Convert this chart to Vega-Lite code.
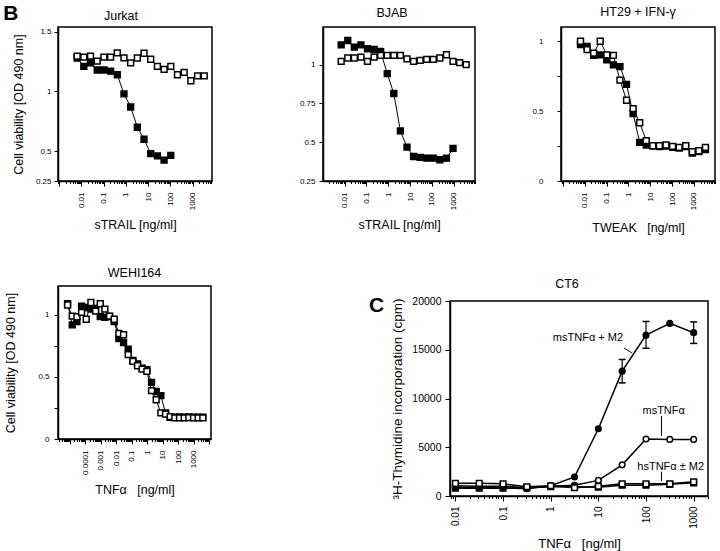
{
"$schema": "https://vega.github.io/schema/vega-lite/v6.json",
"padding": {"left": 2, "top": 2, "right": 0, "bottom": 0},
"background": "white",
"config": {
  "font": "Liberation Sans",
  "view": {"stroke": "black", "strokeWidth": 1.5},
  "axis": {"grid": false, "domainColor": "black", "domainWidth": 1.5, "tickColor": "black", "tickWidth": 1, "labelColor": "black", "titleColor": "black", "titleFontWeight": "normal", "labelFontSize": 8, "titleFontSize": 12.5, "labelOverlap": false, "labelBound": false, "labelFlush": false},
  "title": {"fontWeight": "normal", "fontSize": 12.5, "color": "black"}
},
"datasets": {
  "jurkat": [
    {"x":0.0064,"y":1.28,"s":"filled"},{"x":0.0128,"y":1.21,"s":"filled"},{"x":0.0256,"y":1.24,"s":"filled"},{"x":0.0512,"y":1.18,"s":"filled"},{"x":0.1024,"y":1.18,"s":"filled"},{"x":0.2048,"y":1.17,"s":"filled"},{"x":0.4096,"y":1.14,"s":"filled"},{"x":0.8192,"y":0.98,"s":"filled"},{"x":1.6384,"y":0.87,"s":"filled"},{"x":3.2768,"y":0.7,"s":"filled"},{"x":6.5536,"y":0.6,"s":"filled"},{"x":13.107,"y":0.48,"s":"filled"},{"x":26.214,"y":0.46,"s":"filled"},{"x":52.429,"y":0.425,"s":"filled"},{"x":104.86,"y":0.465,"s":"filled"},
    {"x":0.0064,"y":1.296,"s":"open"},{"x":0.0128,"y":1.287,"s":"open"},{"x":0.0256,"y":1.296,"s":"open"},{"x":0.0512,"y":1.254,"s":"open"},{"x":0.1024,"y":1.287,"s":"open"},{"x":0.2048,"y":1.287,"s":"open"},{"x":0.4096,"y":1.323,"s":"open"},{"x":0.8192,"y":1.282,"s":"open"},{"x":1.6384,"y":1.24,"s":"open"},{"x":3.2768,"y":1.28,"s":"open"},{"x":6.5536,"y":1.32,"s":"open"},{"x":13.107,"y":1.27,"s":"open"},{"x":26.214,"y":1.21,"s":"open"},{"x":52.429,"y":1.185,"s":"open"},{"x":104.86,"y":1.21,"s":"open"},{"x":209.72,"y":1.14,"s":"open"},{"x":419.43,"y":1.16,"s":"open"},{"x":838.86,"y":1.09,"s":"open"},{"x":1677.7,"y":1.13,"s":"open"},{"x":3355.4,"y":1.13,"s":"open"}
  ],
  "bjab": [
    {"x":0.007,"y":1.128,"s":"filled"},{"x":0.014,"y":1.156,"s":"filled"},{"x":0.028,"y":1.113,"s":"filled"},{"x":0.056,"y":1.128,"s":"filled"},{"x":0.112,"y":1.103,"s":"filled"},{"x":0.224,"y":1.098,"s":"filled"},{"x":0.448,"y":1.085,"s":"filled"},{"x":0.896,"y":0.942,"s":"filled"},{"x":1.792,"y":0.814,"s":"filled"},{"x":3.584,"y":0.573,"s":"filled"},{"x":7.168,"y":0.468,"s":"filled"},{"x":14.34,"y":0.408,"s":"filled"},{"x":28.67,"y":0.402,"s":"filled"},{"x":57.34,"y":0.397,"s":"filled"},{"x":114.7,"y":0.397,"s":"filled"},{"x":229.4,"y":0.387,"s":"filled"},{"x":458.8,"y":0.397,"s":"filled"},{"x":917.5,"y":0.46,"s":"filled"},
    {"x":0.007,"y":1.021,"s":"open"},{"x":0.014,"y":1.043,"s":"open"},{"x":0.028,"y":1.043,"s":"open"},{"x":0.056,"y":1.049,"s":"open"},{"x":0.112,"y":1.021,"s":"open"},{"x":0.224,"y":1.049,"s":"open"},{"x":0.448,"y":1.06,"s":"open"},{"x":0.896,"y":1.06,"s":"open"},{"x":1.792,"y":1.06,"s":"open"},{"x":3.584,"y":1.06,"s":"open"},{"x":7.168,"y":1.038,"s":"open"},{"x":14.34,"y":1.021,"s":"open"},{"x":28.67,"y":1.028,"s":"open"},{"x":57.34,"y":1.034,"s":"open"},{"x":114.7,"y":1.034,"s":"open"},{"x":229.4,"y":1.043,"s":"open"},{"x":458.8,"y":1.064,"s":"open"},{"x":917.5,"y":1.021,"s":"open"},{"x":1835,"y":1.013,"s":"open"},{"x":3670,"y":1.0,"s":"open"}
  ],
  "ht29": [
    {"x":0.0064,"y":0.974,"s":"filled"},{"x":0.0128,"y":0.962,"s":"filled"},{"x":0.0256,"y":0.897,"s":"filled"},{"x":0.0512,"y":0.901,"s":"filled"},{"x":0.1024,"y":0.865,"s":"filled"},{"x":0.2048,"y":0.829,"s":"filled"},{"x":0.4096,"y":0.817,"s":"filled"},{"x":0.8192,"y":0.69,"s":"filled"},{"x":1.6384,"y":0.481,"s":"filled"},{"x":3.2768,"y":0.276,"s":"filled"},{"x":6.5536,"y":0.257,"s":"filled"},{"x":13.107,"y":0.252,"s":"filled"},{"x":26.214,"y":0.245,"s":"filled"},{"x":52.429,"y":0.25,"s":"filled"},{"x":104.86,"y":0.24,"s":"filled"},{"x":209.72,"y":0.235,"s":"filled"},{"x":419.43,"y":0.245,"s":"filled"},{"x":838.86,"y":0.2,"s":"filled"},{"x":1677.7,"y":0.21,"s":"filled"},{"x":3355.4,"y":0.225,"s":"filled"},
    {"x":0.0064,"y":0.998,"s":"open"},{"x":0.0128,"y":0.938,"s":"open"},{"x":0.0256,"y":0.913,"s":"open"},{"x":0.0512,"y":0.998,"s":"open"},{"x":0.1024,"y":0.901,"s":"open"},{"x":0.2048,"y":0.897,"s":"open"},{"x":0.4096,"y":0.721,"s":"open"},{"x":0.8192,"y":0.577,"s":"open"},{"x":1.6384,"y":0.517,"s":"open"},{"x":3.2768,"y":0.416,"s":"open"},{"x":6.5536,"y":0.288,"s":"open"},{"x":13.107,"y":0.252,"s":"open"},{"x":26.214,"y":0.252,"s":"open"},{"x":52.429,"y":0.257,"s":"open"},{"x":104.86,"y":0.247,"s":"open"},{"x":209.72,"y":0.24,"s":"open"},{"x":419.43,"y":0.252,"s":"open"},{"x":838.86,"y":0.209,"s":"open"},{"x":1677.7,"y":0.216,"s":"open"},{"x":3355.4,"y":0.24,"s":"open"}
  ],
  "wehi": [
    {"x":0.0000072,"y":1.09,"s":"filled"},{"x":0.0000144,"y":0.92,"s":"filled"},{"x":0.0000288,"y":0.946,"s":"filled"},{"x":0.0000576,"y":1.07,"s":"filled"},{"x":0.000115,"y":1.06,"s":"filled"},{"x":0.00023,"y":1.046,"s":"filled"},{"x":0.000461,"y":1.053,"s":"filled"},{"x":0.000922,"y":0.987,"s":"filled"},{"x":0.00184,"y":0.98,"s":"filled"},{"x":0.00369,"y":0.987,"s":"filled"},{"x":0.00737,"y":0.946,"s":"filled"},{"x":0.0147,"y":0.81,"s":"filled"},{"x":0.0295,"y":0.777,"s":"filled"},{"x":0.059,"y":0.724,"s":"filled"},{"x":0.118,"y":0.633,"s":"filled"},{"x":0.236,"y":0.606,"s":"filled"},{"x":0.472,"y":0.571,"s":"filled"},{"x":0.944,"y":0.558,"s":"filled"},{"x":1.887,"y":0.456,"s":"filled"},{"x":3.775,"y":0.383,"s":"filled"},{"x":7.55,"y":0.349,"s":"filled"},{"x":15.1,"y":0.21,"s":"filled"},{"x":30.2,"y":0.175,"s":"filled"},{"x":60.4,"y":0.175,"s":"filled"},{"x":120.8,"y":0.178,"s":"filled"},{"x":241.6,"y":0.175,"s":"filled"},{"x":483.2,"y":0.178,"s":"filled"},{"x":966.4,"y":0.175,"s":"filled"},{"x":1933,"y":0.175,"s":"filled"},{"x":3865,"y":0.175,"s":"filled"},
    {"x":0.0000072,"y":1.08,"s":"open"},{"x":0.0000144,"y":0.99,"s":"open"},{"x":0.0000288,"y":0.985,"s":"open"},{"x":0.0000576,"y":1.02,"s":"open"},{"x":0.000115,"y":0.965,"s":"open"},{"x":0.00023,"y":1.1,"s":"open"},{"x":0.000461,"y":1.03,"s":"open"},{"x":0.000922,"y":1.09,"s":"open"},{"x":0.00184,"y":1.046,"s":"open"},{"x":0.00369,"y":0.99,"s":"open"},{"x":0.00737,"y":0.965,"s":"open"},{"x":0.0147,"y":0.85,"s":"open"},{"x":0.0295,"y":0.84,"s":"open"},{"x":0.059,"y":0.68,"s":"open"},{"x":0.118,"y":0.625,"s":"open"},{"x":0.236,"y":0.59,"s":"open"},{"x":0.472,"y":0.563,"s":"open"},{"x":0.944,"y":0.545,"s":"open"},{"x":1.887,"y":0.39,"s":"open"},{"x":3.775,"y":0.316,"s":"open"},{"x":7.55,"y":0.21,"s":"open"},{"x":15.1,"y":0.2,"s":"open"},{"x":30.2,"y":0.18,"s":"open"},{"x":60.4,"y":0.17,"s":"open"},{"x":120.8,"y":0.17,"s":"open"},{"x":241.6,"y":0.17,"s":"open"},{"x":483.2,"y":0.172,"s":"open"},{"x":966.4,"y":0.17,"s":"open"},{"x":1933,"y":0.17,"s":"open"},{"x":3865,"y":0.17,"s":"open"}
  ],
  "ct6": [
    {"x":0.01,"y":900,"s":"msM2"},{"x":0.0316,"y":850,"s":"msM2"},{"x":0.1,"y":850,"s":"msM2"},{"x":0.316,"y":750,"s":"msM2"},{"x":1,"y":1050,"s":"msM2"},{"x":3.16,"y":1950,"s":"msM2"},{"x":10,"y":6900,"s":"msM2"},{"x":31.6,"y":12800,"s":"msM2"},{"x":100,"y":16500,"s":"msM2"},{"x":316,"y":17700,"s":"msM2"},{"x":1000,"y":16750,"s":"msM2"},
    {"x":0.01,"y":1050,"s":"ms"},{"x":0.0316,"y":1000,"s":"ms"},{"x":0.1,"y":1000,"s":"ms"},{"x":0.316,"y":850,"s":"ms"},{"x":1,"y":1000,"s":"ms"},{"x":3.16,"y":1100,"s":"ms"},{"x":10,"y":1600,"s":"ms"},{"x":31.6,"y":3200,"s":"ms"},{"x":100,"y":5850,"s":"ms"},{"x":316,"y":5800,"s":"ms"},{"x":1000,"y":5800,"s":"ms"},
    {"x":0.01,"y":800,"s":"hsM2"},{"x":0.0316,"y":800,"s":"hsM2"},{"x":0.1,"y":800,"s":"hsM2"},{"x":0.316,"y":850,"s":"hsM2"},{"x":1,"y":950,"s":"hsM2"},{"x":3.16,"y":950,"s":"hsM2"},{"x":10,"y":900,"s":"hsM2"},{"x":31.6,"y":1100,"s":"hsM2"},{"x":100,"y":1100,"s":"hsM2"},{"x":316,"y":1200,"s":"hsM2"},{"x":1000,"y":1350,"s":"hsM2"},
    {"x":0.01,"y":1300,"s":"hs"},{"x":0.0316,"y":1300,"s":"hs"},{"x":0.1,"y":1250,"s":"hs"},{"x":0.316,"y":950,"s":"hs"},{"x":1,"y":1050,"s":"hs"},{"x":3.16,"y":850,"s":"hs"},{"x":10,"y":1000,"s":"hs"},{"x":31.6,"y":1250,"s":"hs"},{"x":100,"y":1250,"s":"hs"},{"x":316,"y":1250,"s":"hs"},{"x":1000,"y":1450,"s":"hs"}
  ],
  "ct6err": [
    {"x":31.6,"y":11600,"y2":14000},{"x":100,"y":15150,"y2":17900},{"x":1000,"y":15650,"y2":17850}
  ],
  "ct6lab": [
    {"x":6.05,"y":16200,"t":"msTNFα + M2"},{"x":235,"y":8720,"t":"msTNFα"},{"x":330,"y":2975,"t":"hsTNFα ± M2"}
  ],
  "ct6lead": [
    {"x":34.4,"y":15185,"x2":50.5,"y2":14670},{"x":211,"y":8210,"x2":211,"y2":6160},{"x":211,"y":2490,"x2":211,"y2":1540}
  ]
},
"spacing": 81,
"hconcat": [
  {
    "spacing": 32,
    "vconcat": [
      {
        "width": 154, "height": 154,
        "title": {"text": "Jurkat", "dx": -14, "offset": -19},
        "data": {"name": "jurkat"},
        "encoding": {
          "x": {"field": "x", "type": "quantitative", "scale": {"type": "log", "domain": [0.00088, 7500], "nice": false},
            "axis": {"title": "sTRAIL [ng/ml]", "values": [0.0009,0.001,0.002,0.003,0.004,0.005,0.006,0.007,0.008,0.009,0.01,0.02,0.03,0.04,0.05,0.06,0.07,0.08,0.09,0.1,0.2,0.3,0.4,0.5,0.6,0.7,0.8,0.9,1,2,3,4,5,6,7,8,9,10,20,30,40,50,60,70,80,90,100,200,300,400,500,600,700,800,900,1000,2000,3000,4000,5000,6000,7000],
              "labelAngle": 270, "labelAlign": "right", "labelBaseline": "middle",
              "labelExpr": "abs(log(datum.value)/LN10-round(log(datum.value)/LN10))<0.001 && datum.value>0.005 && datum.value<2000 ? format(datum.value, '~g') : ''",
              "tickSize": {"condition": {"test": "abs(log(datum.value)/LN10-round(log(datum.value)/LN10))<0.001", "value": 5}, "value": 2.5},
              "labelPadding": 6, "titlePadding": 9}},
          "y": {"field": "y", "type": "quantitative", "scale": {"domain": [0.25, 1.54], "zero": false, "nice": false},
            "axis": {"title": "Cell viability [OD 490 nm]", "values": [0.25, 0.5, 1, 1.5], "format": "~g", "tickSize": 4, "labelPadding": 3, "titlePadding": 10}}
        },
        "layer": [
          {"mark": {"type": "line", "color": "black", "strokeWidth": 1}, "encoding": {"detail": {"field": "s"}}},
          {"mark": {"type": "square", "size": 34, "stroke": "black", "strokeWidth": 1.5, "opacity": 1}, "encoding": {"fill": {"field": "s", "type": "nominal", "scale": {"domain": ["filled", "open"], "range": ["black", "white"]}, "legend": null}}},
          {"data": {"values": [{"x": 0.0000066, "y": 1.646, "t": "B"}]}, "mark": {"type": "text", "fontSize": 21, "fontWeight": "bold", "align": "center", "baseline": "middle", "color": "black"}, "encoding": {"text": {"field": "t"}}}
        ]
      },
      {
        "width": 153, "height": 153,
        "title": {"text": "WEHI164", "offset": 7},
        "data": {"name": "wehi"},
        "encoding": {
          "x": {"field": "x", "type": "quantitative", "scale": {"type": "log", "domain": [0.00000173, 13000], "nice": false},
            "axis": {"title": "TNFα\u00a0\u00a0 [ng/ml]", "values": [0.000002,0.000003,0.000004,0.000005,0.000006,0.000007,0.000008,0.000009,0.00001,0.00002,0.00003,0.00004,0.00005,0.00006,0.00007,0.00008,0.00009,0.0001,0.0002,0.0003,0.0004,0.0005,0.0006,0.0007,0.0008,0.0009,0.001,0.002,0.003,0.004,0.005,0.006,0.007,0.008,0.009,0.01,0.02,0.03,0.04,0.05,0.06,0.07,0.08,0.09,0.1,0.2,0.3,0.4,0.5,0.6,0.7,0.8,0.9,1,2,3,4,5,6,7,8,9,10,20,30,40,50,60,70,80,90,100,200,300,400,500,600,700,800,900,1000,2000,3000,4000,5000,6000,7000,8000,9000,10000],
              "labelAngle": 270, "labelAlign": "right", "labelBaseline": "middle",
              "labelExpr": "abs(log(datum.value)/LN10-round(log(datum.value)/LN10))<0.001 && datum.value>0.00005 && datum.value<2000 ? format(datum.value, '~g') : ''",
              "tickSize": {"condition": {"test": "abs(log(datum.value)/LN10-round(log(datum.value)/LN10))<0.001", "value": 5}, "value": 2.5},
              "labelPadding": 6, "titlePadding": 9}},
          "y": {"field": "y", "type": "quantitative", "scale": {"domain": [0, 1.233], "nice": false},
            "axis": {"title": "Cell viability [OD 490 nm]", "values": [0, 0.25, 0.5, 0.75, 1], "format": "~g", "labelExpr": "datum.value == 0.25 || datum.value == 0.75 ? '' : datum.label", "tickSize": 4, "labelPadding": 5, "titlePadding": 20}}
        },
        "layer": [
          {"mark": {"type": "line", "color": "black", "strokeWidth": 1}, "encoding": {"detail": {"field": "s"}}},
          {"mark": {"type": "square", "size": 34, "stroke": "black", "strokeWidth": 1.5, "opacity": 1}, "encoding": {"fill": {"field": "s", "type": "nominal", "scale": {"domain": ["filled", "open"], "range": ["black", "white"]}, "legend": null}}}
        ]
      }
    ]
  },
  {
    "spacing": 41,
    "vconcat": [
      {
        "spacing": 51,
        "hconcat": [
          {
            "width": 152, "height": 154,
            "title": {"text": "BJAB", "dx": -7, "offset": 8},
            "data": {"name": "bjab"},
            "encoding": {
              "x": {"field": "x", "type": "quantitative", "scale": {"type": "log", "domain": [0.00103, 9290], "nice": false},
                "axis": {"title": "sTRAIL [ng/ml]", "values": [0.002,0.003,0.004,0.005,0.006,0.007,0.008,0.009,0.01,0.02,0.03,0.04,0.05,0.06,0.07,0.08,0.09,0.1,0.2,0.3,0.4,0.5,0.6,0.7,0.8,0.9,1,2,3,4,5,6,7,8,9,10,20,30,40,50,60,70,80,90,100,200,300,400,500,600,700,800,900,1000,2000,3000,4000,5000,6000,7000,8000,9000],
                  "labelAngle": 270, "labelAlign": "right", "labelBaseline": "middle",
                  "labelExpr": "abs(log(datum.value)/LN10-round(log(datum.value)/LN10))<0.001 && datum.value>0.005 && datum.value<2000 ? format(datum.value, '~g') : ''",
                  "tickSize": {"condition": {"test": "abs(log(datum.value)/LN10-round(log(datum.value)/LN10))<0.001", "value": 5}, "value": 2.5},
                  "labelPadding": 6, "titlePadding": 9}},
              "y": {"field": "y", "type": "quantitative", "scale": {"domain": [0.25, 1.243], "zero": false, "nice": false},
                "axis": {"title": null, "values": [0.25, 0.5, 0.75, 1], "format": "~g", "tickSize": 4, "labelPadding": 4}}
            },
            "layer": [
              {"mark": {"type": "line", "color": "black", "strokeWidth": 1}, "encoding": {"detail": {"field": "s"}}},
              {"mark": {"type": "square", "size": 34, "stroke": "black", "strokeWidth": 1.5, "opacity": 1}, "encoding": {"fill": {"field": "s", "type": "nominal", "scale": {"domain": ["filled", "open"], "range": ["black", "white"]}, "legend": null}}}
            ]
          },
          {
            "width": 154, "height": 154,
            "title": {"text": "HT29 + IFN-γ", "offset": 9},
            "data": {"name": "ht29"},
            "encoding": {
              "x": {"field": "x", "type": "quantitative", "scale": {"type": "log", "domain": [0.00082, 9180], "nice": false},
                "axis": {"title": "TWEAK\u00a0\u00a0 [ng/ml]", "values": [0.0009,0.001,0.002,0.003,0.004,0.005,0.006,0.007,0.008,0.009,0.01,0.02,0.03,0.04,0.05,0.06,0.07,0.08,0.09,0.1,0.2,0.3,0.4,0.5,0.6,0.7,0.8,0.9,1,2,3,4,5,6,7,8,9,10,20,30,40,50,60,70,80,90,100,200,300,400,500,600,700,800,900,1000,2000,3000,4000,5000,6000,7000,8000,9000],
                  "labelAngle": 270, "labelAlign": "right", "labelBaseline": "middle",
                  "labelExpr": "abs(log(datum.value)/LN10-round(log(datum.value)/LN10))<0.001 && datum.value>0.005 && datum.value<2000 ? format(datum.value, '~g') : ''",
                  "tickSize": {"condition": {"test": "abs(log(datum.value)/LN10-round(log(datum.value)/LN10))<0.001", "value": 5}, "value": 2.5},
                  "labelPadding": 6, "titlePadding": 12}},
              "y": {"field": "y", "type": "quantitative", "scale": {"domain": [0, 1.1], "nice": false},
                "axis": {"title": null, "values": [0, 0.25, 0.5, 0.75, 1], "format": "~g", "labelExpr": "datum.value == 0.25 || datum.value == 0.75 ? '' : datum.label", "tickSize": 4, "labelPadding": 14}}
            },
            "layer": [
              {"mark": {"type": "line", "color": "black", "strokeWidth": 1}, "encoding": {"detail": {"field": "s"}}},
              {"mark": {"type": "square", "size": 34, "stroke": "black", "strokeWidth": 1.5, "opacity": 1}, "encoding": {"fill": {"field": "s", "type": "nominal", "scale": {"domain": ["filled", "open"], "range": ["black", "white"]}, "legend": null}}}
            ]
          }
        ]
      },
      {
        "spacing": 44,
        "hconcat": [
          {"width": 1, "height": 1, "view": {"stroke": null}, "data": {"values": []}, "mark": "point"},
          {
            "width": 258, "height": 195,
            "title": {"text": "CT6", "dx": -12, "offset": 4},
            "data": {"name": "ct6"},
            "encoding": {
              "x": {"field": "x", "type": "quantitative", "scale": {"type": "log", "domain": [0.0077, 2000], "nice": false},
                "axis": {"title": "TNFα\u00a0\u00a0 [ng/ml]", "titleFontSize": 13, "labelFontSize": 10, "values": [0.008,0.009,0.01,0.02,0.03,0.04,0.05,0.06,0.07,0.08,0.09,0.1,0.2,0.3,0.4,0.5,0.6,0.7,0.8,0.9,1,2,3,4,5,6,7,8,9,10,20,30,40,50,60,70,80,90,100,200,300,400,500,600,700,800,900,1000,2000],
                  "labelAngle": 270, "labelAlign": "right", "labelBaseline": "middle",
                  "labelExpr": "abs(log(datum.value)/LN10-round(log(datum.value)/LN10))<0.001 && datum.value>0.005 && datum.value<2000 ? format(datum.value, '~g') : ''",
                  "tickSize": {"condition": {"test": "abs(log(datum.value)/LN10-round(log(datum.value)/LN10))<0.001", "value": 5}, "value": 2.5},
                  "labelPadding": 5, "titlePadding": 9}},
              "y": {"field": "y", "type": "quantitative", "scale": {"domain": [0, 20000], "nice": false},
                "axis": {"title": "³H-Thymidine incorporation (cpm)", "titleFontSize": 13.5, "labelFontSize": 10.5, "values": [0, 5000, 10000, 15000, 20000], "format": "d", "tickSize": 5, "labelPadding": 4, "titlePadding": 7}}
            },
            "layer": [
              {"mark": {"type": "line", "color": "black", "strokeWidth": 1.5}, "encoding": {"detail": {"field": "s"}}},
              {"data": {"name": "ct6err"}, "mark": {"type": "rule", "color": "black", "strokeWidth": 1.2}, "encoding": {"y2": {"field": "y2"}}},
              {"data": {"name": "ct6err"}, "mark": {"type": "tick", "orient": "horizontal", "size": 7, "thickness": 1.5, "color": "black", "opacity": 1}},
              {"data": {"name": "ct6err"}, "mark": {"type": "tick", "orient": "horizontal", "size": 7, "thickness": 1.5, "color": "black", "opacity": 1}, "encoding": {"y": {"field": "y2", "type": "quantitative"}}},
              {"mark": {"type": "point", "filled": true, "size": 32, "stroke": "black", "strokeWidth": 1.5, "opacity": 1},
                "encoding": {
                  "shape": {"field": "s", "type": "nominal", "scale": {"domain": ["msM2", "ms", "hsM2", "hs"], "range": ["circle", "circle", "square", "square"]}, "legend": null},
                  "fill": {"field": "s", "type": "nominal", "scale": {"domain": ["msM2", "ms", "hsM2", "hs"], "range": ["black", "white", "black", "white"]}, "legend": null}}},
              {"data": {"name": "ct6lead"}, "mark": {"type": "rule", "color": "black", "strokeWidth": 1}, "encoding": {"x2": {"field": "x2"}, "y2": {"field": "y2"}}},
              {"data": {"name": "ct6lab"}, "mark": {"type": "text", "fontSize": 11, "align": "center", "baseline": "middle", "color": "black"}, "encoding": {"text": {"field": "t"}}},
              {"data": {"values": [{"x": 0.000222, "y": 19500, "t": "C"}]}, "mark": {"type": "text", "fontSize": 21, "fontWeight": "bold", "align": "center", "baseline": "middle", "color": "black"}, "encoding": {"text": {"field": "t"}}}
            ]
          }
        ]
      }
    ]
  }
]
}
